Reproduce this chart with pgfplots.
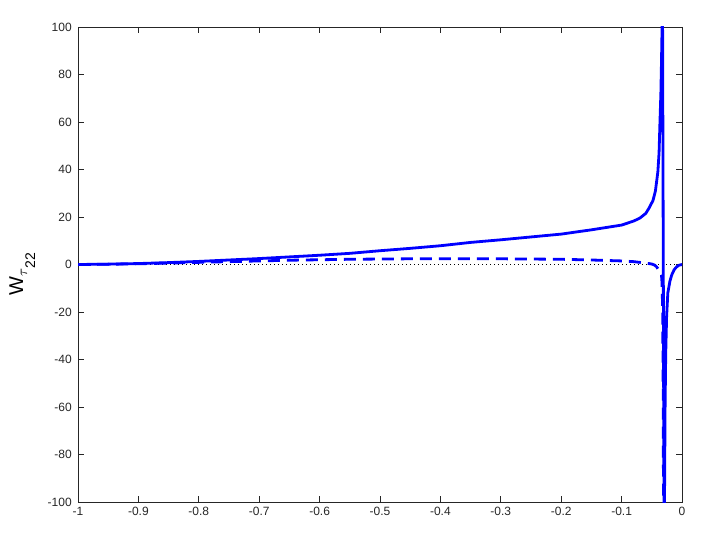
\documentclass[border=0pt]{standalone}
\usepackage{fontspec}
\setmainfont{Liberation Sans}
\usepackage{pgfplots}
\pgfplotsset{compat=1.18}
\definecolor{axgray}{rgb}{0.15,0.15,0.15}
\begin{document}
\begin{tikzpicture}
\begin{axis}[
    scale only axis, width=453pt, height=356.25pt,
    xmin=-1, xmax=0, ymin=-100, ymax=100,
    xtick={-1,-0.9,-0.8,-0.7,-0.6,-0.5,-0.4,-0.3,-0.2,-0.1,0},
    xticklabels={-1,-0.9,-0.8,-0.7,-0.6,-0.5,-0.4,-0.3,-0.2,-0.1,0},
    ytick={-100,-80,-60,-40,-20,0,20,40,60,80,100},
    yticklabels={-100,-80,-60,-40,-20,0,20,40,60,80,100},
    tick align=inside, major tick length=4.5pt,
    axis line style={axgray, line width=0.6pt},
    every tick/.style={axgray, line width=0.6pt},
    tick label style={font=\fontsize{9}{11}\selectfont, text=axgray},
    xticklabel style={inner sep=0pt, yshift=-3.5pt},
    yticklabel style={inner sep=0pt, xshift=-4.5pt},
  ]
  % zero reference line
  \addplot[black, line width=0.75pt, dash pattern=on 0.75pt off 2.25pt] coordinates {(-1,0) (0,0)};
  % dashed series
  \addplot[blue, line width=2.1pt, dash pattern=on 9pt off 5.25pt] coordinates {
    (-1,0) (-0.95,0.1) (-0.9,0.3) (-0.85,0.6) (-0.8,0.9) (-0.75,1.2) (-0.7,1.5)
    (-0.65,1.8) (-0.6,2.0) (-0.55,2.2) (-0.5,2.3) (-0.45,2.4) (-0.4,2.45)
    (-0.35,2.45) (-0.3,2.4) (-0.25,2.3) (-0.2,2.2) (-0.15,1.9) (-0.1,1.5)
    (-0.08,1.2) (-0.07,0.9) (-0.06,0.6) (-0.05,0.2) (-0.045,-0.3) (-0.042,-1)
    (-0.038,-2.5) (-0.034,-4.4) (-0.033,-8) (-0.032,-20) (-0.031,-60) (-0.0305,-130) };
  % solid series
  \addplot[blue, line width=2.1pt] coordinates {
    (-1,0) (-0.95,0.15) (-0.9,0.4) (-0.85,0.8) (-0.8,1.3) (-0.75,1.9) (-0.7,2.5)
    (-0.65,3.2) (-0.6,3.9) (-0.55,4.7) (-0.5,5.8) (-0.45,6.8) (-0.4,7.9)
    (-0.35,9.3) (-0.3,10.4) (-0.25,11.6) (-0.2,12.8) (-0.15,14.6) (-0.1,16.6)
    (-0.08,18.3) (-0.07,19.5) (-0.06,21.5) (-0.054,24) (-0.048,27) (-0.044,31)
    (-0.040,39) (-0.038,47) (-0.0365,60) (-0.035,72) (-0.034,85) (-0.033,100)
    (-0.0325,130) (-0.0295,-130) (-0.029,-100) (-0.028,-60) (-0.027,-38)
    (-0.0255,-22) (-0.0235,-12) (-0.02,-7) (-0.017,-4.4) (-0.013,-2.2)
    (-0.009,-1) (-0.005,-0.3) (0,0) };
\end{axis}
\node[rotate=90, anchor=south, inner sep=0pt]
  at ([xshift=-32pt, yshift=-7pt]current axis.west)
  {\fontsize{15}{18}\selectfont W\raisebox{-3pt}{\fontsize{10.5}{12}\selectfont$\tau$\raisebox{-6pt}{22}}};
\pgfresetboundingbox
\path (current axis.south west) ++(-58.5pt,-25.5pt) rectangle ++(528.75pt,402pt);
\end{tikzpicture}
\end{document}
